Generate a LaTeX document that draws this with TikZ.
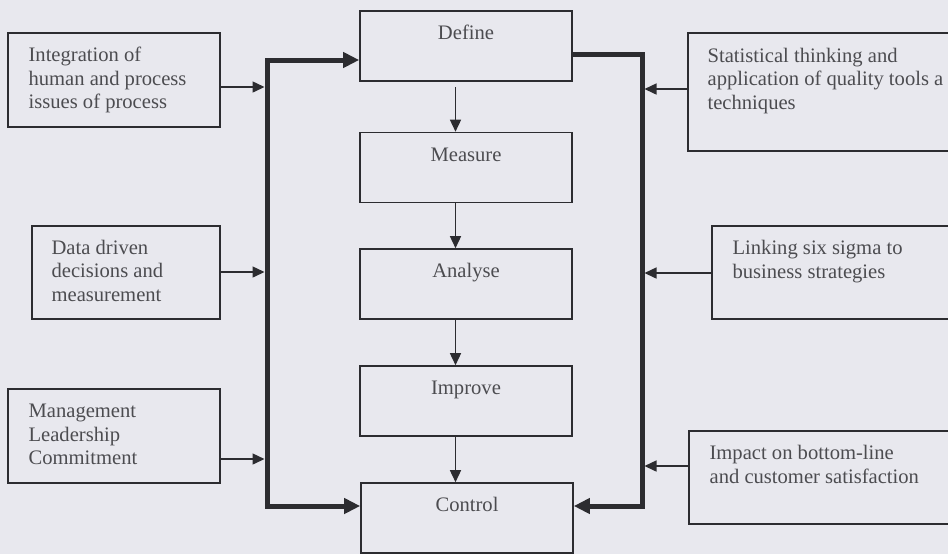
\documentclass[tikz,border=0pt]{standalone}
\usepackage{fontspec}
\setmainfont{Liberation Serif}
\usetikzlibrary{arrows.meta}
\definecolor{paper}{RGB}{232,232,238}
\definecolor{ink}{RGB}{44,44,48}
\definecolor{print}{RGB}{76,76,80}

\begin{document}
\begin{tikzpicture}[x=0.5pt,y=-0.5pt,
    box/.style={draw=ink, line width=0.8pt, minimum width=106pt, minimum height=35pt, inner sep=0pt},
    txt/.style={text=print, font=\fontsize{10.3}{11.75}\selectfont, align=left, inner sep=0pt},
    feed/.style={draw=ink, line width=0.75pt, >={Triangle[length=6pt,width=5.5pt]}, ->},
    tobus/.style={feed, shorten >=1.25pt},
    bus/.style={draw=ink, line width=2.5pt, >={Triangle[length=8pt,width=7.5pt]}}]
    \useasboundingbox (0,0) rectangle (948,554);
    \fill[paper] (0,0) rectangle (948,554);
    \clip (0,0) rectangle (948,554);

    % DMAIC column
    \node[box] (define) at (466,46) {};
    \node[box] (measure) at (466,167.5) {};
    \node[box] (analyse) at (466,284) {};
    \node[box] (improve) at (466,401) {};
    \node[box] (control) at (467,518) {};
    \node[txt, anchor=base] (define-t) at ([yshift=-14.75pt]define.north) {Define};
    \node[txt, anchor=base] (measure-t) at ([yshift=-14.75pt]measure.north) {Measure};
    \node[txt, anchor=base] (analyse-t) at ([yshift=-14.75pt]analyse.north) {Analyse};
    \node[txt, anchor=base] (improve-t) at ([yshift=-14.75pt]improve.north) {Improve};
    \node[txt, anchor=base] (control-t) at ([yshift=-14.75pt]control.north) {Control};

    % inputs on the left (base = last line)
    \node[box, minimum height=47pt] (integ) at (114,80) {};
    \node[box, minimum width=94pt, minimum height=46.5pt] (data) at (126,272.5) {};
    \node[box, minimum height=47pt] (lead) at (114,436) {};
    \node[txt, anchor=base west] (integ-t) at ([shift={(21,76.5)}]integ.north west)
        {Integration of\\human and process\\issues of process};
    \node[txt, anchor=base west] (data-t) at ([shift={(20,76)}]data.north west)
        {Data driven\\decisions and\\measurement};
    \node[txt, anchor=base west] (lead-t) at ([shift={(21,76.5)}]lead.north west)
        {Management\\Leadership\\Commitment};

    % inputs on the right
    \node[box, minimum width=146pt, minimum height=59pt] (stat) at (834,92) {};
    \node[box, minimum width=134pt, minimum height=46.5pt] (link) at (846,272.5) {};
    \node[box, minimum width=145.5pt, minimum height=46.5pt] (impact) at (834.5,477.5) {};
    \node[txt, anchor=base west] (stat-t) at ([shift={(20,77)}]stat.north west)
        {Statistical thinking and\\application of quality tools a\\techniques};
    \node[txt, anchor=base west] (link-t) at ([shift={(21,53)}]link.north west)
        {Linking six sigma to\\business strategies};
    \node[txt, anchor=base west] (impact-t) at ([shift={(21,53)}]impact.north west)
        {Impact on bottom-line\\and customer satisfaction};

    \coordinate (lbus) at (267,0);
    \coordinate (rbus) at (642,0);
    \coordinate (axis) at (455.5,0);
    \coordinate (defL) at ([yshift=-7pt]define.west);
    \coordinate (defR) at ([yshift=-4pt]define.east);
    \coordinate (ctrlL) at ([yshift=6pt]control.west);
    \coordinate (ctrlR) at ([yshift=6pt]control.east);

    % main flow
    \draw[feed, shorten <=2.5pt] (define.south -| axis) -- (measure.north -| axis);
    \draw[feed] (measure.south -| axis) -- (analyse.north -| axis);
    \draw[feed] (analyse.south -| axis) -- (improve.north -| axis);
    \draw[feed] (improve.south -| axis) -- (control.north -| axis);

    % thick return lines
    \draw[bus, <->] (defL) -| (lbus |- ctrlL) -- (ctrlL);
    \draw[bus, ->] (defR) -| (rbus |- ctrlR) -- (ctrlR);

    % feeds into the lines
    \coordinate (integ-o) at ([yshift=-3.5pt]integ.east);
    \coordinate (data-o) at ([yshift=0.25pt]data.east);
    \coordinate (lead-o) at ([yshift=-11.5pt]lead.east);
    \coordinate (stat-o) at ([yshift=1.5pt]stat.west);
    \coordinate (link-o) at ([yshift=-0.25pt]link.west);
    \coordinate (impact-o) at ([yshift=5.75pt]impact.west);
    \draw[tobus] (integ-o) -- (integ-o -| lbus);
    \draw[tobus] (data-o) -- (data-o -| lbus);
    \draw[tobus] (lead-o) -- (lead-o -| lbus);
    \draw[tobus] (stat-o) -- (stat-o -| rbus);
    \draw[tobus] (link-o) -- (link-o -| rbus);
    \draw[tobus] (impact-o) -- (impact-o -| rbus);
\end{tikzpicture}
\end{document}
